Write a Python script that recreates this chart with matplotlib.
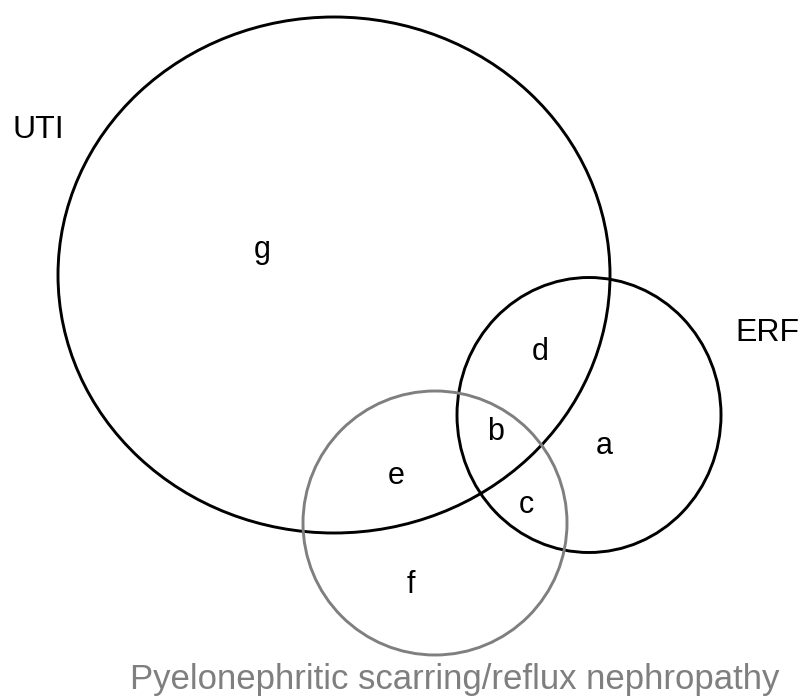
import matplotlib
matplotlib.use("Agg")
import matplotlib.pyplot as plt
from matplotlib.patches import Ellipse

plt.rcParams['font.family'] = ['Liberation Sans', 'DejaVu Sans']

# Sets (name, label position, colour)
set_names = ["UTI", "ERF", "Pyelonephritic scarring/reflux nephropathy"]
set_colors = ["#000000", "#000000", "#7f7f7f"]
# Ellipse geometry per set (centre x, centre y, width, height) in pixel coords
set_cx = [334, 589, 435]
set_cy = [275, 415, 523]
set_w = [552, 264, 264]
set_h = [516, 275, 264]
set_label_xy = [(13, 130), (735, 333), (455, 680)]
set_label_ha = ["left", "left", "center"]
set_label_size = [23, 23, 25]

# Region letters
region_labels = ["g", "d", "b", "a", "e", "c", "f"]
region_x = [262, 540, 496, 604, 396, 526, 411]
region_y = [250, 352, 432, 446, 476, 505, 585]

fig = plt.figure(figsize=(8.09, 6.97), dpi=100)
ax = fig.add_axes([0, 0, 1, 1])
ax.set_xlim(0, 809)
ax.set_ylim(697, 0)
ax.axis("off")

for cx, cy, w, h, c in zip(set_cx, set_cy, set_w, set_h, set_colors):
    ax.add_patch(Ellipse((cx, cy), w, h, fill=False, edgecolor=c, linewidth=2.1))

for name, (lx, ly), ha, c, fs in zip(set_names, set_label_xy, set_label_ha, set_colors, set_label_size):
    ax.text(lx, ly, name, ha=ha, va="center", fontsize=fs, color=c)

for lab, x, y in zip(region_labels, region_x, region_y):
    ax.text(x, y, lab, ha="center", va="center", fontsize=22, color="black")

fig.savefig("out.png", dpi=100)
